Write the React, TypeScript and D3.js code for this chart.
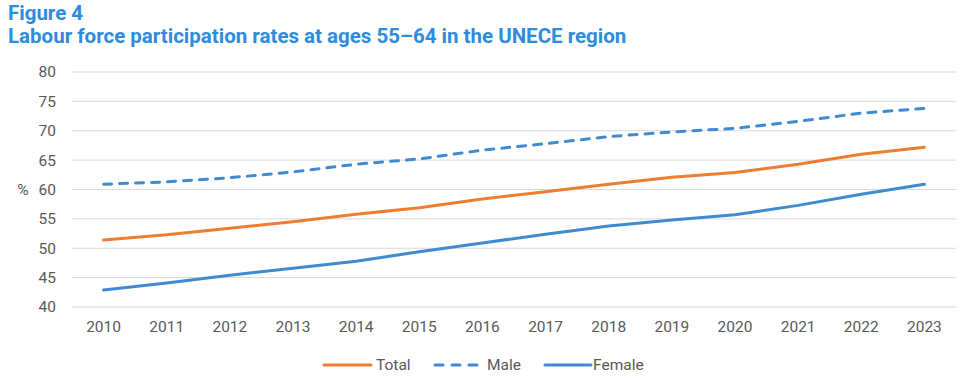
import React, { useRef, useEffect } from 'react';
import * as d3 from 'd3';

const years = ['2010', '2011', '2012', '2013', '2014', '2015', '2016', '2017', '2018', '2019', '2020', '2021', '2022', '2023'];
const totalValues = [51.4, 52.3, 53.4, 54.5, 55.8, 56.9, 58.4, 59.6, 60.9, 62.1, 62.9, 64.3, 66.0, 67.2];
const maleValues = [60.9, 61.3, 62.0, 63.0, 64.3, 65.2, 66.7, 67.8, 69.0, 69.8, 70.4, 71.6, 73.0, 73.8];
const femaleValues = [42.9, 44.1, 45.4, 46.6, 47.8, 49.4, 50.9, 52.4, 53.8, 54.8, 55.7, 57.3, 59.2, 60.9];
const yTicks = [40, 45, 50, 55, 60, 65, 70, 75, 80];

const series = [
  { name: 'Total', values: totalValues, color: '#ED7D31', dash: null },
  { name: 'Male', values: maleValues, color: '#3E8BD2', dash: '8,8' },
  { name: 'Female', values: femaleValues, color: '#3E8BD2', dash: null },
];

const width = 965;
const height = 385;
const labelFont = 'Roboto, sans-serif';

const App = () => {
  const svgRef = useRef<SVGSVGElement | null>(null);

  useEffect(() => {
    if (!svgRef.current) return;
    const svg = d3.select(svgRef.current);
    svg.selectAll('*').remove();

    const left = 72;
    const right = 956;
    const top = 72;
    const bottom = 307;

    const x = d3.scalePoint<string>().domain(years).range([left, right]).padding(0.5);
    const y = d3.scaleLinear().domain([40, 80]).range([bottom, top]);

    // title
    svg.append('text')
      .attr('x', 8).attr('y', 20)
      .attr('font-family', 'Roboto, sans-serif')
      .attr('font-weight', 700)
      .attr('font-size', 20.5)
      .attr('fill', '#2E8BDD')
      .text('Figure 4');
    svg.append('text')
      .attr('x', 8).attr('y', 43)
      .attr('font-family', 'Roboto, sans-serif')
      .attr('font-weight', 700)
      .attr('font-size', 20.5)
      .attr('fill', '#2E8BDD')
      .text('Labour force participation rates at ages 55\u201364 in the UNECE region');

    // gridlines
    svg.append('g')
      .selectAll('line')
      .data(yTicks)
      .enter()
      .append('line')
      .attr('x1', left).attr('x2', right)
      .attr('y1', d => y(d)).attr('y2', d => y(d))
      .attr('stroke', '#D9D9D9')
      .attr('stroke-width', 1);

    // y tick labels
    svg.append('g')
      .selectAll('text')
      .data(yTicks)
      .enter()
      .append('text')
      .attr('x', 56)
      .attr('y', d => y(d))
      .attr('dy', '0.35em')
      .attr('text-anchor', 'end')
      .attr('font-family', labelFont)
      .attr('font-size', 15.5)
      .attr('fill', '#595959')
      .text(d => d);

    svg.append('text')
      .attr('x', 23).attr('y', y(60))
      .attr('dy', '0.35em')
      .attr('text-anchor', 'middle')
      .attr('font-family', labelFont)
      .attr('font-size', 15.5)
      .attr('fill', '#595959')
      .text('%');

    // x tick labels
    svg.append('g')
      .selectAll('text')
      .data(years)
      .enter()
      .append('text')
      .attr('x', d => x(d) as number)
      .attr('y', 327)
      .attr('dy', '0.35em')
      .attr('text-anchor', 'middle')
      .attr('font-family', labelFont)
      .attr('font-size', 15.5)
      .attr('fill', '#595959')
      .text(d => d);

    const line = d3.line<number>()
      .x((_, i) => x(years[i]) as number)
      .y(d => y(d));

    series.forEach(s => {
      const p = svg.append('path')
        .datum(s.values)
        .attr('d', line)
        .attr('fill', 'none')
        .attr('stroke', s.color)
        .attr('stroke-width', 3)
        .attr('stroke-linejoin', 'round')
        .attr('stroke-linecap', 'round');
      if (s.dash) p.attr('stroke-dasharray', s.dash);
    });

    // legend
    const legendItems = [
      { x: 324, len: 47, textX: 376 },
      { x: 435, len: 42, textX: 487 },
      { x: 545, len: 46, textX: 593 },
    ];
    const ly = 365;
    series.forEach((s, i) => {
      const item = legendItems[i];
      const l = svg.append('line')
        .attr('x1', item.x).attr('x2', item.x + item.len)
        .attr('y1', ly).attr('y2', ly)
        .attr('stroke', s.color)
        .attr('stroke-width', 3)
        .attr('stroke-linecap', 'round');
      if (s.dash) l.attr('stroke-dasharray', '8,9');
      svg.append('text')
        .attr('x', item.textX).attr('y', ly)
        .attr('dy', '0.35em')
        .attr('font-family', labelFont)
        .attr('font-size', 15.5)
        .attr('fill', '#595959')
        .text(s.name);
    });
  }, []);

  return (
    <svg
      ref={svgRef}
      width={width}
      height={height}
      style={{ position: 'absolute', left: 0, top: 0, background: '#fff' }}
    />
  );
};

export default App;
